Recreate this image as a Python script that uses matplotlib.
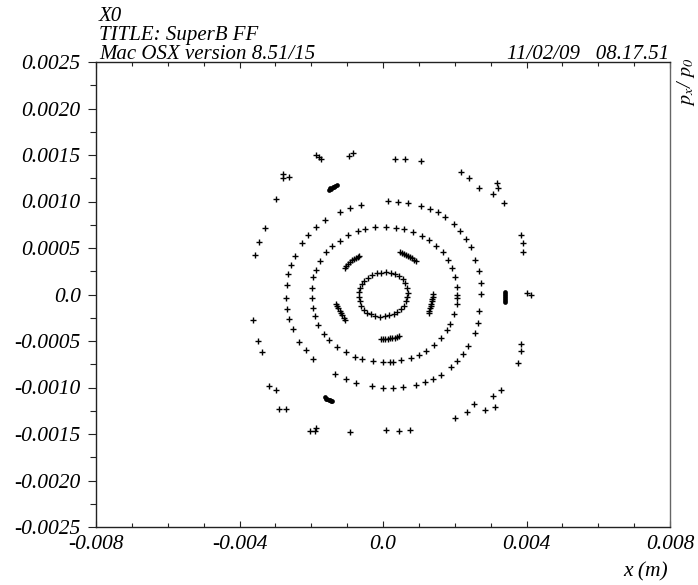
import numpy as np
import matplotlib
matplotlib.use("Agg")
import matplotlib.pyplot as plt
from matplotlib.ticker import MultipleLocator, FixedLocator

plt.rcParams["font.family"] = ["Liberation Serif", "DejaVu Serif"]
plt.rcParams["font.style"] = "italic"
plt.rcParams["mathtext.fontset"] = "stix"

# Tracked particles in horizontal phase space (x in m, px/p0 in 1e-4 units below)
S = 1e-4

# inner closed orbit ring
ring_core_x = [-6.60, -6.60, -6.41, -6.04, -5.30, -4.46, -3.44, -2.23, -0.74, 0.46, 1.67, 2.97,
               3.99, 5.02, 5.76, 6.32, 6.78, 6.87, 6.69, 6.22, 5.57, 4.55, 3.44, 2.14, 0.74,
               -0.46, -1.77, -3.07, -4.27, -5.20, -5.95, -6.41]
ring_core_y = [0.27, -0.23, -0.73, -1.20, -1.63, -1.95, -2.13, -2.28, -2.38, -2.35, -2.24, -2.13,
               -1.92, -1.59, -1.20, -0.73, -0.23, 0.13, 0.66, 1.20, 1.63, 1.99, 2.24, 2.35, 2.38,
               2.35, 2.28, 2.06, 1.77, 1.49, 1.09, 0.70]

# five-fold island chain arcs
arc_x = [-10.68, -10.22, -9.75, -9.20, -8.64, -8.08, -7.52, -7.06, -6.69,
         4.83, 5.39, 5.95, 6.50, 7.06, 7.62, 8.18, 8.73, 9.29,
         13.94, 13.84, 13.75, 13.56, 13.47, 13.28, 13.10, 12.91, 12.73,
         -0.65, 0.00, 0.65, 1.30, 1.95, 2.60, 3.25, 3.90, 4.55,
         -13.01, -12.73, -12.45, -12.08, -11.71, -11.33, -10.96, -10.68]
arc_y = [2.89, 3.10, 3.32, 3.49, 3.67, 3.82, 3.96, 4.07, 4.14,
         4.53, 4.46, 4.35, 4.25, 4.14, 4.03, 3.89, 3.75, 3.60,
         0.02, -0.23, -0.48, -0.73, -0.99, -1.24, -1.49, -1.74, -1.95,
         -4.78, -4.78, -4.75, -4.75, -4.71, -4.68, -4.64, -4.57, -4.50,
         -0.99, -1.24, -1.49, -1.74, -1.99, -2.24, -2.53, -2.78]

# middle invariant curve
ring_mid_x = [-2.14, 0.74, 3.72, 5.76, 8.27, 10.78, 12.82, 14.86, 16.72, 18.12, 19.32, 20.16,
              20.53, 20.53, 20.53, 20.53, 19.69, 18.58, 17.74, 16.07, 14.12, 12.08, 10.13, 7.71,
              4.92, 2.69, 1.86, 0.00, -2.88, -5.76, -7.71, -10.40, -12.82, -14.96, -16.35,
              -18.02, -19.04, -19.60, -19.79, -19.88, -19.51, -18.58, -17.65, -15.79, -14.21,
              -12.08, -9.66, -6.97, -4.92]
ring_mid_y = [7.22, 7.26, 7.19, 7.08, 6.76, 6.29, 5.90, 5.25, 4.57, 3.67, 2.89, 1.88,
              0.81, -0.09, -0.41, -1.06, -2.13, -3.21, -3.85, -4.68, -5.43, -6.04, -6.47, -6.83,
              -7.08, -7.22, -7.22, -7.26, -7.15, -6.94, -6.68, -6.18, -5.64, -4.89, -4.21,
              -3.28, -2.28, -1.45, -0.41, 0.73, 1.88, 2.63, 3.60, 4.53, 5.25,
              5.79, 6.36, 6.79, 7.04]

# outer invariant curve
ring_out_x = [1.30, 4.27, 7.06, 10.59, 13.01, 15.24, 17.28, 19.88, 21.55, 23.13, 24.43, 25.73,
              26.85, 27.22, 27.41, 26.85, 26.38, 25.55, 23.78, 22.30, 20.62, 18.86, 16.07, 13.94,
              11.71, 9.29, 5.57, 2.79, -0.09, -3.07, -7.43, -10.40, -13.38, -19.51, -21.55,
              -23.32, -25.08, -26.10, -26.76, -26.94, -26.85, -26.38, -25.73, -24.62, -22.57,
              -20.81, -18.58, -16.07, -12.08, -9.20, -6.04]
ring_out_y = [10.02, 9.98, 9.87, 9.55, 9.19, 8.83, 8.30, 7.54, 6.83, 6.00, 5.11, 3.71,
              2.49, 1.27, 0.02, -1.77, -3.03, -4.10, -5.50, -6.40, -7.19, -7.83, -8.62, -9.09,
              -9.44, -9.73, -9.95, -10.02, -10.02, -9.87, -9.48, -9.09, -8.58, -6.90, -6.00,
              -5.07, -3.71, -2.60, -1.56, -0.41, 1.06, 2.17, 3.21, 4.18, 5.57,
              6.43, 7.26, 7.97, 8.83, 9.30, 9.62]

# scattered particles near the dynamic aperture
halo_x = [-18.58, -17.84, -17.19, -9.48, -8.27, 3.34, 6.13, 10.59, 21.83, 24.06, 26.66,
          31.86, 32.05, 30.56, 33.63, -27.87, -27.87, -26.20, -29.82, -32.79, -34.56, -35.58,
          38.55, 38.93, 38.93, -36.14, -34.93, -33.63, 38.55, 38.55, 37.72, -31.86, -29.91,
          -28.89, -27.13, -20.35, -18.86, -18.58, -9.20, 0.84, 4.46, 7.62, 19.97, 23.32,
          25.45, 28.52, 31.12, 30.56, 32.98, 40.23, 41.34]
halo_y = [15.00, 14.82, 14.53, 14.89, 15.25, 14.53, 14.61, 14.39, 13.14, 12.56, 11.49,
          11.95, 11.45, 10.81, 9.84, 12.92, 12.56, 12.60, 10.23, 7.11, 5.61, 4.21,
          6.40, 5.50, 4.53, -2.78, -4.96, -6.18, -5.36, -6.07, -7.33, -9.87, -10.30,
          -12.28, -12.28, -14.68, -14.68, -14.32, -14.82, -14.57, -14.71, -14.57, -13.31, -12.60,
          -11.77, -12.42, -12.10, -10.91, -10.23, 0.13, -0.02]

# three compact islands (many turns overlapping)
blob_x = [-15.05, -14.49, -13.94, -13.38, -12.91, -14.70, -13.60,
          -16.16, -15.61, -15.05, -14.49, -14.12, -15.80, -14.80,
          34.00, 34.09, 34.09, 34.00, 34.00, 33.91]
blob_y = [11.27, 11.38, 11.52, 11.67, 11.77, 11.50, 11.55,
          -11.06, -11.20, -11.31, -11.42, -11.49, -11.20, -11.30,
          0.27, 0.05, -0.16, -0.38, -0.59, -0.77]

x_tick_vals = [-0.008, -0.004, 0.0, 0.004, 0.008]
x_tick_labels = ["-0.008", "-0.004", "0.0", "0.004", "0.008"]
y_tick_vals = [0.0025, 0.0020, 0.0015, 0.0010, 0.0005, 0.0, -0.0005, -0.0010, -0.0015, -0.0020, -0.0025]
y_tick_labels = ["0.0025", "0.0020", "0.0015", "0.0010", "0.0005", "0.0",
                 "-0.0005", "-0.0010", "-0.0015", "-0.0020", "-0.0025"]

fig = plt.figure(figsize=(6.98, 5.85), dpi=100)
ax = fig.add_axes([96 / 698, 1 - 527 / 585, 574 / 698, 465 / 585])

mk = dict(marker="+", linestyle="none", color="black", ms=3.8, mew=1.0)
for xs, ys in [(ring_core_x, ring_core_y), (arc_x, arc_y), (ring_mid_x, ring_mid_y),
               (ring_out_x, ring_out_y), (halo_x, halo_y)]:
    ax.plot(np.array(xs) * S, np.array(ys) * S, **mk)
ax.plot(np.array(blob_x) * S, np.array(blob_y) * S, marker="o", linestyle="none",
        color="black", ms=3.4, mew=0)

ax.set_xlim(-0.008, 0.008)
ax.set_ylim(-0.0025, 0.0025)

# x ticks: labelled every 0.004, long marks every 0.002, short every 0.001
ax.xaxis.set_major_locator(FixedLocator(x_tick_vals))
ax.set_xticklabels(x_tick_labels)
ax.xaxis.set_minor_locator(FixedLocator([v * 0.001 for v in range(-8, 9)
                                         if v % 4 != 0]))
ax.yaxis.set_major_locator(FixedLocator(y_tick_vals))
ax.set_yticklabels(y_tick_labels)
ax.yaxis.set_minor_locator(MultipleLocator(0.00025))

ax.tick_params(axis="x", which="major", direction="in", top=True, bottom=True,
               length=4.5, width=0.8, labelsize=15.5, pad=6, color="#222222")
ax.tick_params(axis="x", which="minor", direction="in", top=True, bottom=True,
               length=3, width=0.8, color="#222222")
ax.tick_params(axis="y", which="major", direction="out", left=True, right=False,
               length=6, width=0.8, labelsize=15.5, pad=5, color="#222222")
ax.tick_params(axis="y", which="minor", direction="out", left=True, right=False,
               length=4.5, width=0.8, color="#222222")

for side in ["left", "bottom", "top"]:
    ax.spines[side].set_color("#222222")
    ax.spines[side].set_linewidth(1.0)
ax.spines["right"].set_color("#666666")
ax.spines["right"].set_linewidth(1.0)

hdr = dict(fontsize=15, style="italic", transform=fig.transFigure)
fig.text(99 / 698, 1 - 21 / 585, "X0", ha="left", va="baseline", **hdr)
fig.text(99 / 698, 1 - 40 / 585, "TITLE: SuperB FF", ha="left", va="baseline", **hdr)
fig.text(99 / 698, 1 - 59 / 585, "Mac OSX version 8.51/15", ha="left", va="baseline", **hdr)
fig.text(669 / 698, 1 - 59 / 585, "11/02/09   08.17.51", ha="right", va="baseline", **hdr)

fig.text(668 / 698, 1 - 576 / 585, "x (m)", ha="right", va="baseline",
         fontsize=15.5, style="italic", transform=fig.transFigure)
fig.text(686 / 698, 1 - 57 / 585, r"$p_x$/ $p_0$", ha="center", va="top", rotation=90,
         fontsize=14.5, transform=fig.transFigure)

fig.savefig("out.png", dpi=100)
